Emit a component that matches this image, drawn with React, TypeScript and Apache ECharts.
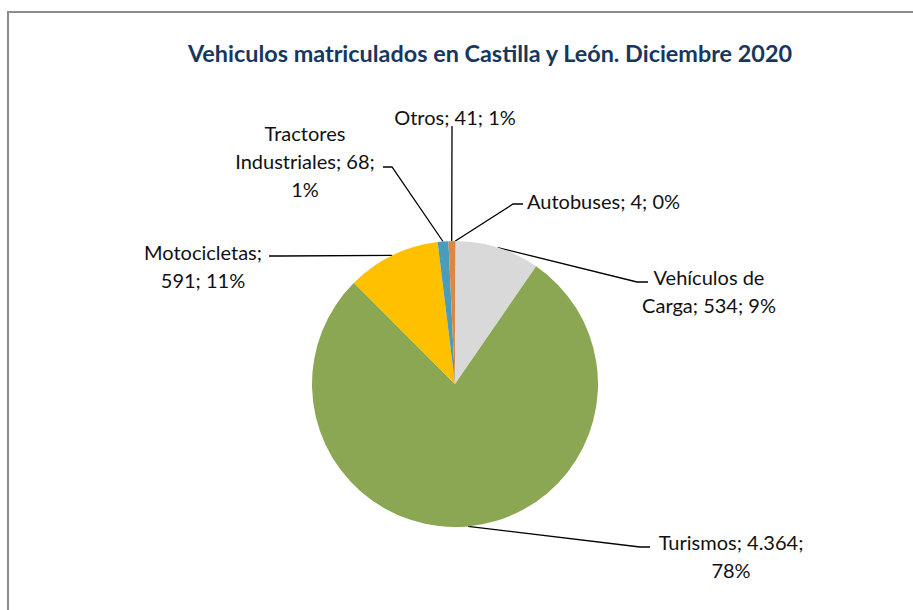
import React, { useEffect, useRef } from "react";
import * as echarts from "echarts";

const titleText = "Vehiculos matriculados en Castilla y León. Diciembre 2020";
const categories = ["Autobuses", "Vehículos de Carga", "Turismos", "Motocicletas", "Tractores Industriales", "Otros"];
const values = [4, 534, 4364, 591, 68, 41];
const percentLabels = ["0%", "9%", "78%", "11%", "1%", "1%"];
const wordsPerLine = [[3], [2, 3], [2, 1], [1, 2], [1, 2, 1], [3]];
const sliceColors = ["#E07B39", "#D9D9D9", "#8BA753", "#FFC000", "#4A9DBA", "#DD8747"];

const labelPlacement = [
  { x: 527, y: 201, align: "left", elbow: [513, 204], end: [523, 204] },
  { x: 709, y: 291, align: "center", elbow: [637, 282], end: [648, 282] },
  { x: 731, y: 556, align: "center", elbow: [640, 547], end: [650, 547] },
  { x: 203, y: 266, align: "center", elbow: [280, 256], end: [269, 256] },
  { x: 305, y: 161, align: "center", elbow: [392, 167], end: [383, 167] },
  { x: 455, y: 117, align: "center", elbow: [452, 132], end: [452, 126] },
];

const fmtNum = (v: number) => String(v).replace(/\B(?=(\d{3})+(?!\d))/g, ".");

function buildLabel(i: number) {
  const words = `${categories[i]}; ${fmtNum(values[i])}; ${percentLabels[i]}`.split(" ");
  const lines: string[] = [];
  let k = 0;
  for (const n of wordsPerLine[i]) {
    lines.push(words.slice(k, k + n).join(" "));
    k += n;
  }
  return lines.join("\n");
}

export default function App() {
  const ref = useRef<HTMLDivElement>(null);
  useEffect(() => {
    if (!ref.current) return;
    const chart = echarts.init(ref.current, undefined, { renderer: "svg" });
    chart.setOption({
      animation: false,
      backgroundColor: "#ffffff",
      title: {
        text: titleText,
        left: 485,
        top: 48,
        textAlign: "center",
        textVerticalAlign: "middle",
        textStyle: { fontFamily: "Lato", fontWeight: "bold", fontSize: 23.4, color: "#17375E" },
      },
      graphic: [
        {
          type: "rect",
          shape: { x: 8, y: 12, width: 1200, height: 1200 },
          style: { fill: "none", stroke: "#8C8C8C", lineWidth: 2 },
          silent: true,
        },
      ],
      series: [
        {
          type: "pie",
          center: [455, 384],
          radius: 143,
          startAngle: 90,
          clockwise: true,
          avoidLabelOverlap: false,
          data: categories.map((name, i) => ({
            name,
            value: values[i],
            itemStyle: { color: sliceColors[i] },
          })),
          label: {
            show: true,
            position: "outside",
            formatter: (p: any) => buildLabel(p.dataIndex),
            fontFamily: "Lato",
            fontSize: 20,
            lineHeight: 28,
            color: "#111111",
          },
          labelLine: { show: true, lineStyle: { color: "#000000", width: 1.3 } },
          labelLayout: (p: any) => {
            const pl = labelPlacement[p.dataIndex];
            const start = p.labelLinePoints && p.labelLinePoints[0] ? p.labelLinePoints[0] : pl.elbow;
            return {
              x: pl.x,
              y: pl.y,
              align: pl.align,
              verticalAlign: "middle",
              labelLinePoints: [start, pl.elbow, pl.end],
            };
          },
          emphasis: { disabled: true },
        },
      ],
    });
    return () => chart.dispose();
  }, []);
  return <div ref={ref} style={{ position: "absolute", left: 0, top: 0, width: 913, height: 610 }} />;
}
